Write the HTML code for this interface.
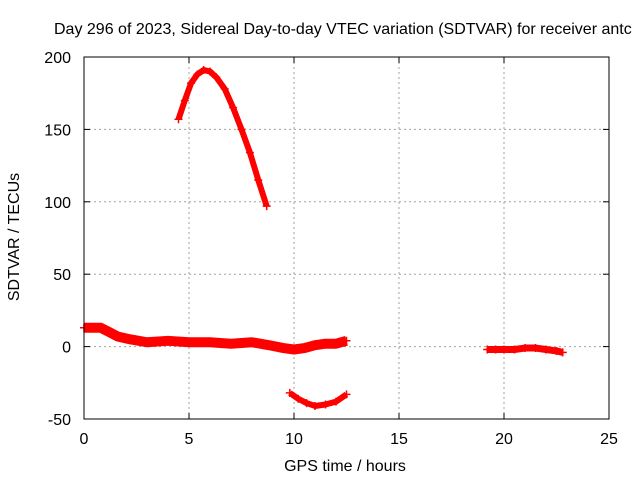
<!DOCTYPE html>
<html><head><meta charset="utf-8"><style>
body{margin:0;background:#fff;}
svg{display:block;font-family:"Liberation Sans",sans-serif;}
</style></head><body>
<svg id="chart" width="640" height="480" xmlns="http://www.w3.org/2000/svg">
<rect width="640" height="480" fill="#fff"/>
<text x="54" y="34" font-size="16">Day 296 of 2023, Sidereal Day-to-day VTEC variation (SDTVAR) for receiver antc</text>
<g id="grid"></g>
<g id="series"></g>
<rect x="84" y="57" width="525" height="362" fill="none" stroke="#000" stroke-width="1"/>
<g id="ticks"></g>
<text x="345" y="471" font-size="16" text-anchor="middle">GPS time / hours</text>
<text transform="translate(19,237) rotate(-90)" font-size="16" text-anchor="middle">SDTVAR / TECUs</text>
</svg>
<script>
const xTicks=[0,5,10,15,20,25];
const yTicks=[-50,0,50,100,150,200];
const arcHours=[4.5,4.8,5.1,5.4,5.7,6.0,6.3,6.7,7.1,7.5,7.9,8.3,8.7];
const arcValues=[157,170,182,188,191,190,186,178,165,150,134,115,97];
const mainHours=[0,0.8,1.2,1.6,2.2,3,4,5,6,7,8,8.8,9.5,10,10.5,11,11.5,12,12.5];
const mainValues=[13,13,10,7,5,3,4,3,3,2,3,1,-1,-2,-1,1,2,2,4];
const dipHours=[9.8,10.2,10.6,11,11.5,12,12.5];
const dipValues=[-32,-36,-39,-41,-40,-38,-33];
const lateHours=[19.2,19.6,20,20.5,21,21.5,22,22.5,22.8];
const lateValues=[-2,-2,-2,-2,-1,-1,-2,-3,-4];
const X=h=>84+h*21;
const Y=v=>346.6-v*1.448;
const ns="http://www.w3.org/2000/svg";
function mk(tag,attrs,parent){const e=document.createElementNS(ns,tag);for(const k in attrs)e.setAttribute(k,attrs[k]);parent.appendChild(e);return e;}
const grid=document.getElementById('grid'),ticks=document.getElementById('ticks'),ser=document.getElementById('series');
xTicks.forEach(t=>{
  if(t>0&&t<25){const g=mk('line',{x1:X(t),x2:X(t),y1:57,y2:419,stroke:'#a0a0a0','stroke-dasharray':'2,3'},grid);
  
  }
  mk('line',{x1:X(t),x2:X(t),y1:419,y2:413,stroke:'#000'},ticks);
  mk('line',{x1:X(t),x2:X(t),y1:57,y2:63,stroke:'#000'},ticks);
  const l=mk('text',{x:X(t),y:444,'font-size':16,'text-anchor':'middle'},ticks);l.textContent=t;
  
  
});
yTicks.forEach(t=>{
  if(t>-50&&t<200){const g=mk('line',{x1:84,x2:609,y1:Y(t),y2:Y(t),stroke:'#a0a0a0','stroke-dasharray':'2,3'},grid);
  
  }
  mk('line',{x1:84,x2:90,y1:Y(t),y2:Y(t),stroke:'#000'},ticks);
  mk('line',{x1:609,x2:603,y1:Y(t),y2:Y(t),stroke:'#000'},ticks);
  const l=mk('text',{x:71,y:Y(t)+6,'font-size':16,'text-anchor':'end'},ticks);l.textContent=t;
  
  
});
function draw(hs,vs,name,w){
  const p=mk('polyline',{points:hs.map((h,i)=>X(h)+','+Y(vs[i])).join(' '),fill:'none',stroke:'#f00','stroke-width':w,'stroke-linejoin':'round'},ser);
  
  
  hs.forEach((h,i)=>{mk('path',{d:`M${X(h)-4},${Y(vs[i])}h8M${X(h)},${Y(vs[i])-4}v8`,stroke:'#f00','stroke-width':1.5},ser);});
}
draw(arcHours,arcValues,'arc-series',6);
draw(mainHours,mainValues,'main-series',10);
draw(dipHours,dipValues,'dip-series',6);
draw(lateHours,lateValues,'late-series',7);
</script>
</body></html>
